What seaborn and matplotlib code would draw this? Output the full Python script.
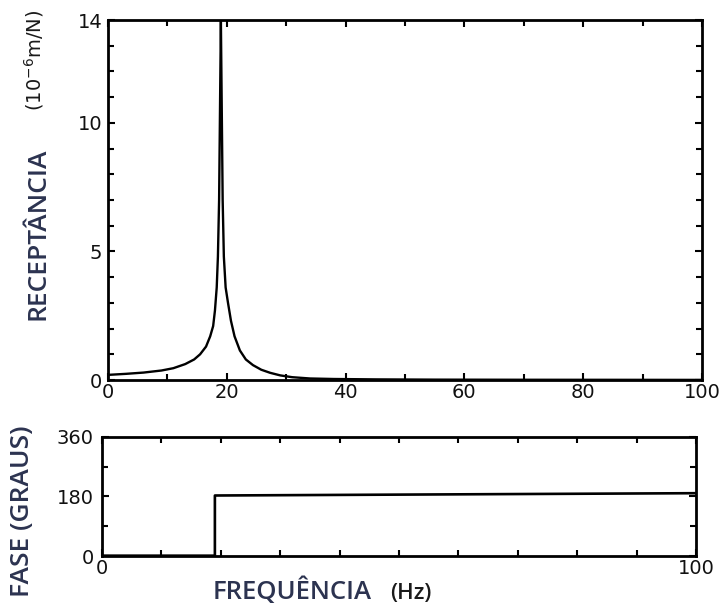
import matplotlib
matplotlib.use("Agg")
import matplotlib.pyplot as plt
import numpy as np
import pandas as pd
import seaborn as sns
from matplotlib.ticker import MultipleLocator, FixedLocator

# Dados
freq = [0, 3, 6, 9, 11, 13, 14.5, 15.5, 16.5, 17.2, 17.7, 18.0, 18.3, 18.5,
        18.7, 18.85, 19.0, 19.15, 19.3, 19.5, 19.8, 20.2, 20.7, 21.3, 22.2,
        23.2, 24.4, 25.8, 27.3, 29, 31, 34, 38, 45, 55, 70, 85, 100]
receptancia = [0.2, 0.24, 0.29, 0.37, 0.46, 0.62, 0.8, 1.0, 1.3, 1.7, 2.1,
               2.7, 3.6, 4.8, 7.0, 10.5, 14.0, 10.5, 7.0, 4.8, 3.6, 3.0, 2.3,
               1.7, 1.15, 0.8, 0.58, 0.4, 0.28, 0.18, 0.11, 0.06, 0.04, 0.025,
               0.015, 0.01, 0.008, 0.005]

freq_fase = [0, 19, 19, 100]
fase = [1, 1, 183, 190]

rec_ticks = [0, 5, 10, 14]
freq_ticks = [0, 20, 40, 60, 80, 100]
fase_ticks = [0, 180, 360]
fase_freq_ticks = [0, 100]

sns.set_theme(style="ticks")
plt.rcParams['font.family'] = ['DejaVu Sans']

label_color = "#2c3350"
fonte = ["Open Sans", "DejaVu Sans"]

df_rec = pd.DataFrame({"f": freq, "r": receptancia})
df_fase = pd.DataFrame({"f": freq_fase, "p": fase})

fig = plt.figure(figsize=(7.23, 6.06), dpi=100)
ax1 = fig.add_axes([0.1494, 0.3729, 0.8216, 0.594])
ax2 = fig.add_axes([0.1411, 0.0825, 0.8216, 0.1964])

sns.lineplot(data=df_rec, x="f", y="r", ax=ax1, color="black", lw=1.7,
             estimator=None, sort=False)
sns.lineplot(data=df_fase, x="f", y="p", ax=ax2, color="black", lw=1.9,
             estimator=None, sort=False)

ax1.set_xlim(0, 100)
ax1.set_ylim(0, 14)
ax1.xaxis.set_major_locator(FixedLocator(freq_ticks))
ax1.xaxis.set_minor_locator(MultipleLocator(10))
ax1.yaxis.set_major_locator(FixedLocator(rec_ticks))
ax1.yaxis.set_minor_locator(MultipleLocator(1))

ax2.set_xlim(0, 100)
ax2.set_ylim(0, 360)
ax2.xaxis.set_major_locator(FixedLocator(fase_freq_ticks))
ax2.xaxis.set_minor_locator(MultipleLocator(10))
ax2.yaxis.set_major_locator(FixedLocator(fase_ticks))
ax2.yaxis.set_minor_locator(MultipleLocator(90))

for ax in (ax1, ax2):
    ax.set_xlabel("")
    ax.set_ylabel("")
    for s in ax.spines.values():
        s.set_visible(True)
        s.set_linewidth(2.0)
        s.set_color("black")
    ax.tick_params(which="both", direction="in", top=True, right=True,
                   color="black", labelsize=14, labelcolor="#111111")
    ax.tick_params(which="major", length=5, width=1.5)
    ax.tick_params(which="minor", length=4, width=1.5)
    ax.tick_params(axis="x", pad=2)
    ax.tick_params(axis="y", pad=4)
ax2.tick_params(axis="y", pad=6)

# Rotulos dos eixos
fig.text(0.052, 0.614, "RECEPTÂNCIA", rotation=90, ha="center", va="center",
         fontsize=19, color=label_color, family=fonte, fontweight="semibold")
fig.text(0.047, 0.90, r"(10$^{-6}$m/N)", rotation=90, ha="center", va="center",
         fontsize=14, color="#1a1a1a")
fig.text(0.031, 0.157, "FASE (GRAUS)", rotation=90, ha="center", va="center",
         fontsize=19, color=label_color, family=fonte, fontweight="semibold")
fig.text(213 / 723, 0.012, "FREQUÊNCIA", ha="left", va="baseline",
         fontsize=18.5, color=label_color, family=fonte, fontweight="semibold")
fig.text(390 / 723, 0.012, "(Hz)", ha="left", va="baseline",
         fontsize=16, color="#1a1a1a", family=fonte, fontweight="semibold")

fig.savefig("out.png", dpi=100, facecolor="white")
